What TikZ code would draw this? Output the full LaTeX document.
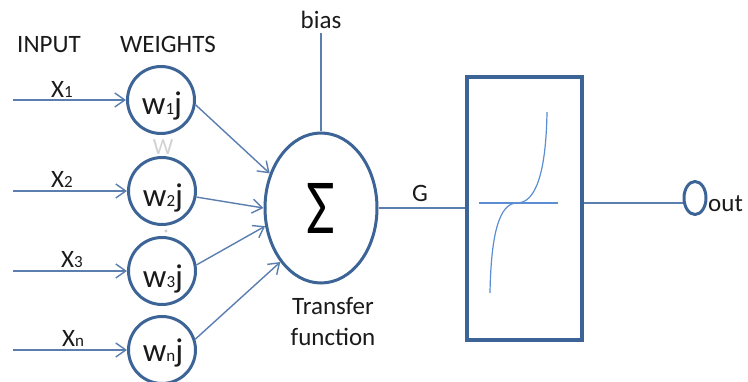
\documentclass[tikz,border=0pt]{standalone}
\usepackage{fontspec}
\setmainfont{Carlito}
\usetikzlibrary{shapes.geometric,arrows.meta}
\definecolor{cdark}{HTML}{3D6496}
\definecolor{cline}{HTML}{5A7EB0}
\definecolor{ccurve}{HTML}{5B8DD2}
\definecolor{ctext}{HTML}{1A1A1A}
\tikzset{
  wcirc/.style={circle,draw=cdark,line width=3pt,minimum size=67pt,inner sep=0pt},
  conn/.style={draw=cline,line width=1.4pt},
  arr/.style={conn,-{Straight Barb[length=10pt,width=14pt,line width=1.4pt]}},
  lbl/.style={anchor=base,text=ctext,inner sep=0pt,font=\fontsize{25}{30}\selectfont},
  wlbl/.style={anchor=base,text=ctext,inner sep=0pt,font=\fontsize{33}{36}\selectfont},
}
\newcommand{\smalldig}[1]{{\fontsize{17}{18}\selectfont #1}}
\begin{document}
\begin{tikzpicture}[x=1pt,y=-1pt]
\useasboundingbox (0,0) rectangle (748,382);
% headings
\node[lbl] (hin) at (49,53) {INPUT};
\node[lbl] (hw) at (168,53) {WEIGHTS};
% weight circles
\node[wcirc] (w1) at (161,100) {};
\node[wcirc] (w2) at (162,191) {};
\node[wcirc] (w3) at (162,271) {};
\node[wcirc] (wn) at (162,350) {};
\node[wlbl] (t1) at (162,115) {w\smalldig{1}j};
\node[wlbl] (t2) at (163,207) {w\smalldig{2}j};
\node[wlbl] (t3) at (163,288) {w\smalldig{3}j};
\node[wlbl] (tn) at (163,362) {w\smalldig{n}j};
% faint marks
\node[anchor=base,text=gray!35,inner sep=0pt,font=\fontsize{23}{24}\selectfont] (ghost) at (163,155) {W};
\node[circle,draw=gray!50,line width=0.5pt,inner sep=0pt,minimum size=2.5pt] (dot) at (166,231) {};
% input lines
\coordinate (i1) at (13,100);
\coordinate (i2) at (13,191);
\coordinate (i3) at (13,271);
\coordinate (in) at (13,350);
\draw[arr] (i1) -- (w1.west);
\draw[arr] (i2) -- (w2.west);
\draw[arr] (i3) -- (w3.west);
\draw[arr] (in) -- (wn.west);
\node[lbl] (x1) at (62,98) {X\smalldig{1}};
\node[lbl] (x2) at (62,188) {X\smalldig{2}};
\node[lbl] (x3) at (72,268) {X\smalldig{3}};
\node[lbl] (xn) at (73,347) {X\smalldig{n}};
% summation
\node[ellipse,draw=cdark,line width=3pt,minimum width=112pt,minimum height=150pt,inner sep=0pt,text=black,font=\fontsize{78}{78}\selectfont] (sum) at (321,208) {\scalebox{0.8}[1]{Σ}};
\draw[arr] (w1.-8) -- (sum.146);
\draw[arr] (w2.-10) -- (sum.180);
\draw[arr] (w3.10) -- (sum.198);
\draw[arr] (wn.18) -- (sum.233);
% bias
\coordinate (btop) at (321,33);
\draw[conn] (btop) -- (sum.north);
\node[lbl] (bias) at (321,29) {bias};
% transfer function label
\node[lbl] (tf1) at (333,315) {Transfer};
\node[lbl] (tf2) at (333,346) {function};
% activation box
\node[rectangle,draw=cdark,line width=4pt,minimum width=115pt,minimum height=263pt,inner sep=0pt] (box) at (524.5,208.5) {};
\draw[conn] (sum.east) -- (box.west |- sum.east);
\node[lbl] (g) at (420,202) {G};
\draw[draw=ccurve,line width=1.2pt] (479,203) -- (558,203);
\draw[draw=ccurve,line width=1.2pt] (490,293) .. controls (491,235) and (499,203) .. (517,203) .. controls (535,203) and (546,175) .. (547,112);
% output
\node[ellipse,draw=cdark,line width=3pt,minimum width=22pt,minimum height=33pt,inner sep=0pt] (outc) at (695,198) {};
\coordinate (bo) at (582,203);
\draw[conn] (box.east |- bo) -- (outc.west |- bo);
\node[lbl,anchor=base west] (out) at (708,212) {out};
\end{tikzpicture}
\end{document}
